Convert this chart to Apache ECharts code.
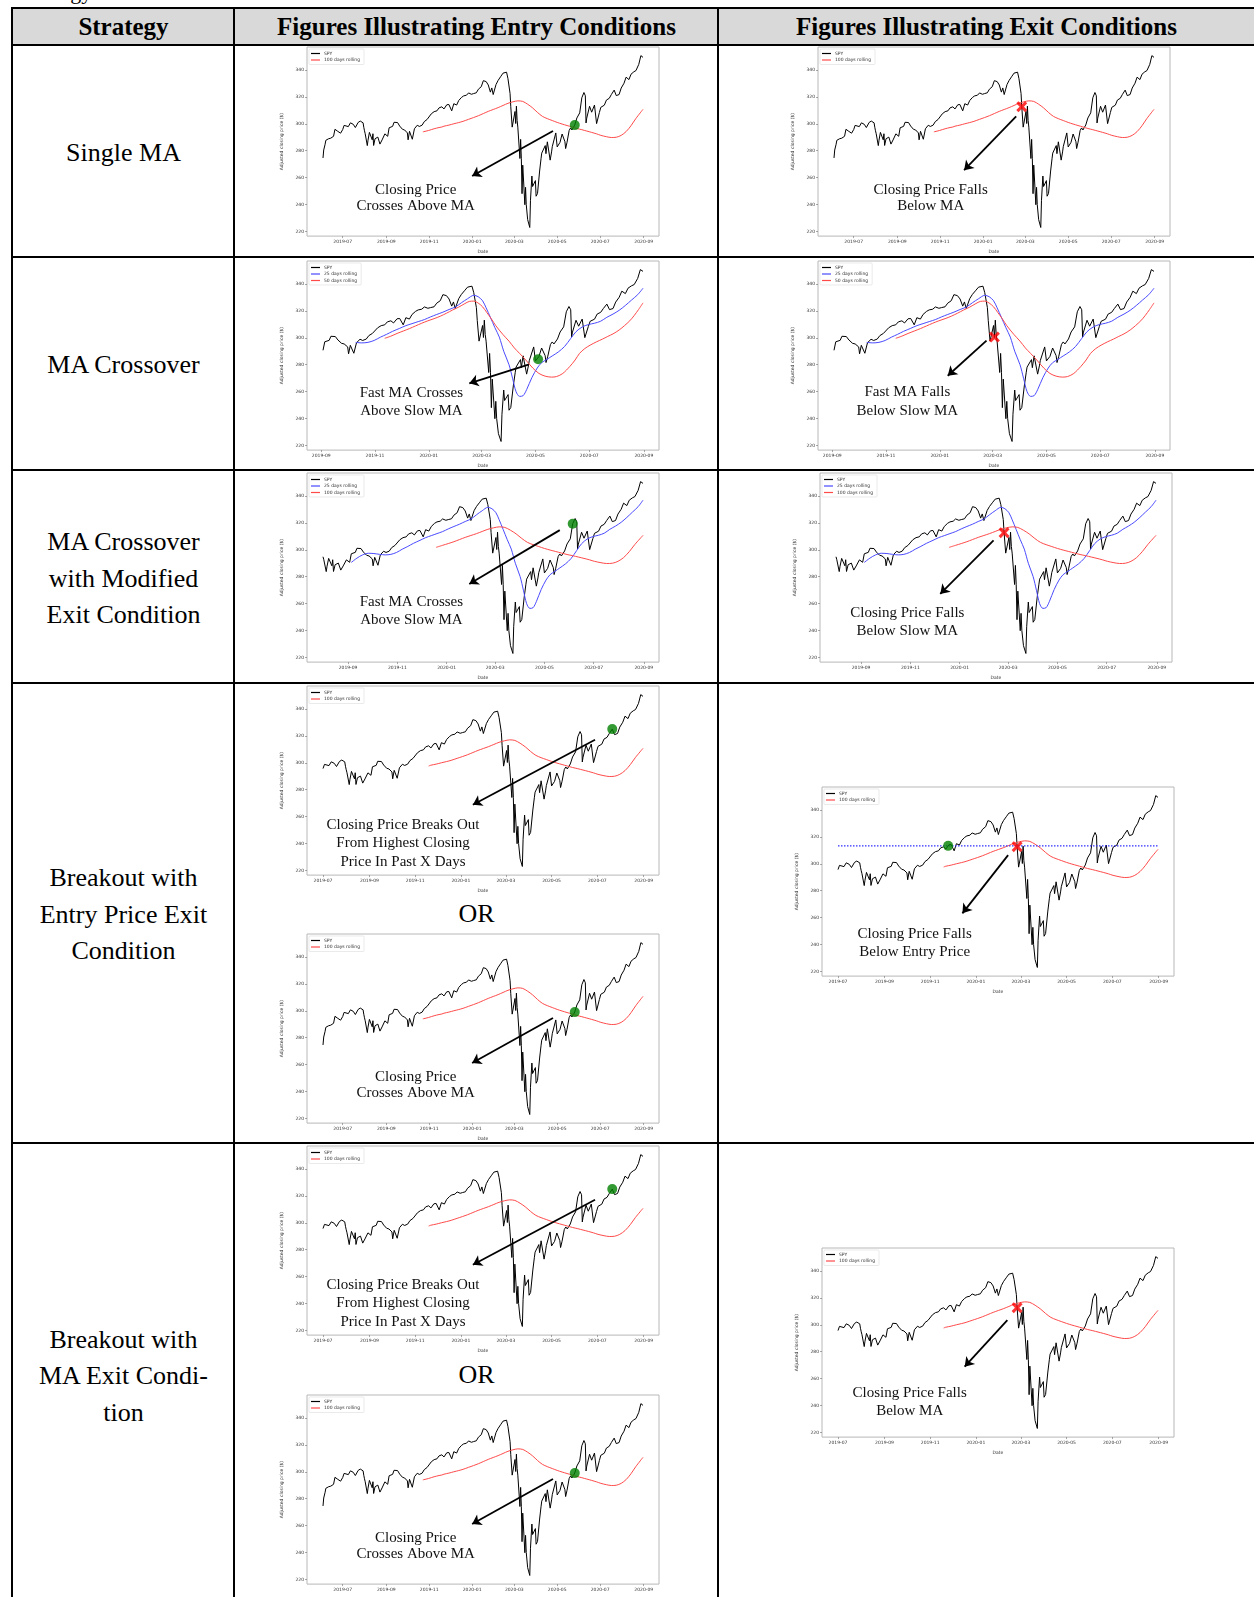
<!DOCTYPE html>
<html lang="en">
<head>
<meta charset="utf-8">
<title>Strategy entry and exit figures</title>
<script src="https://cdn.jsdelivr.net/npm/echarts@6/dist/echarts.min.js"></script>
<style>
    html, body {
        margin: 0;
        padding: 0;
        width: 1254px;
        height: 1597px;
        overflow: hidden;
        background: #fff;
        font-family: "Liberation Serif", "Times New Roman", serif;
        color: #000;
    }
    .hl { position: absolute; left: 11px; right: 0; height: 2px; background: #000; }
    .vl { position: absolute; top: 7px; bottom: 0; width: 2px; background: #000; }
    .head { position: absolute; top: 8px; height: 37px; line-height: 37px; font-weight: bold; font-size: 25px; text-align: center; }
    .label { position: absolute; left: 13px; width: 221px; text-align: center; font-size: 26px; line-height: 36.5px; }
    .or { position: absolute; left: 235px; width: 483px; text-align: center; font-size: 26px; line-height: 30px; }
    .fig { position: absolute; }
</style>
</head>
<body>
    <div style="position:absolute;left:19px;top:-19px;font-size:22px;line-height:22px;">Strategy</div>

    <div style="position:absolute;left:12px;top:8px;right:0;height:37px;background:#d9d9d9;"></div>
    <div class="hl" style="top:7px"></div>
    <div class="hl" style="top:44px"></div>
    <div class="hl" style="top:256px"></div>
    <div class="hl" style="top:469px"></div>
    <div class="hl" style="top:682px"></div>
    <div class="hl" style="top:1142px"></div>
    <div class="vl" style="left:11px"></div>
    <div class="vl" style="left:233px"></div>
    <div class="vl" style="left:717px"></div>

    <div class="head" style="left:13px;width:221px;">Strategy</div>
    <div class="head" style="left:235px;width:483px;">Figures Illustrating Entry Conditions</div>
    <div class="head" style="left:719px;width:535px;">Figures Illustrating Exit Conditions</div>

    <div class="label" style="top:134.5px">Single MA</div>
    <div class="label" style="top:346.5px">MA Crossover</div>
    <div class="label" style="top:524px">MA Crossover<br>with Modified<br>Exit Condition</div>
    <div class="label" style="top:860px">Breakout with<br>Entry Price Exit<br>Condition</div>
    <div class="label" style="top:1321.5px">Breakout with<br>MA Exit Condi-<br>tion</div>

    <div class="or" style="top:899px">OR</div>
    <div class="or" style="top:1360px">OR</div>

<script>
// SPY closing prices
const spy = [
    ['2019-06-03', 274.6], ['2019-06-04', 280.5], ['2019-06-06', 284.8], ['2019-06-07', 287.7],
    ['2019-06-11', 288.9], ['2019-06-14', 289.3], ['2019-06-18', 290.7], ['2019-06-20', 295.9],
    ['2019-06-24', 294.4], ['2019-06-28', 293.0], ['2019-07-01', 295.7], ['2019-07-03', 298.8],
    ['2019-07-09', 297.9], ['2019-07-12', 300.7], ['2019-07-16', 299.6], ['2019-07-19', 297.2],
    ['2019-07-23', 301.0], ['2019-07-26', 302.0], ['2019-07-30', 300.7], ['2019-07-31', 297.4],
    ['2019-08-01', 294.8], ['2019-08-02', 292.6], ['2019-08-05', 283.8], ['2019-08-06', 287.8],
    ['2019-08-08', 293.6], ['2019-08-12', 288.1], ['2019-08-13', 292.6], ['2019-08-14', 283.9],
    ['2019-08-16', 288.9], ['2019-08-20', 290.1], ['2019-08-23', 284.9], ['2019-08-26', 288.0],
    ['2019-08-28', 287.3], ['2019-08-30', 292.5], ['2019-09-03', 290.7], ['2019-09-05', 297.0],
    ['2019-09-10', 298.1], ['2019-09-12', 301.1], ['2019-09-17', 300.9], ['2019-09-19', 301.1],
    ['2019-09-20', 298.3], ['2019-09-24', 295.9], ['2019-09-27', 295.4], ['2019-10-01', 293.2],
    ['2019-10-02', 288.1], ['2019-10-04', 294.4], ['2019-10-08', 288.5], ['2019-10-11', 296.3],
    ['2019-10-15', 298.9], ['2019-10-18', 298.0], ['2019-10-22', 299.0], ['2019-10-25', 301.6],
    ['2019-10-29', 303.2], ['2019-10-31', 303.3], ['2019-11-04', 307.4], ['2019-11-08', 309.0],
    ['2019-11-12', 309.6], ['2019-11-15', 311.8], ['2019-11-19', 312.6], ['2019-11-22', 311.0],
    ['2019-11-26', 314.1], ['2019-11-29', 314.3], ['2019-12-03', 309.6], ['2019-12-06', 314.9],
    ['2019-12-10', 313.9], ['2019-12-13', 317.3], ['2019-12-17', 319.6], ['2019-12-20', 320.7],
    ['2019-12-24', 321.2], ['2019-12-27', 322.9], ['2019-12-31', 321.9], ['2020-01-03', 322.4],
    ['2020-01-07', 323.0], ['2020-01-10', 325.7], ['2020-01-14', 327.5], ['2020-01-17', 332.0],
    ['2020-01-21', 331.3], ['2020-01-24', 328.8], ['2020-01-27', 323.5], ['2020-01-29', 326.6],
    ['2020-01-31', 321.7], ['2020-02-04', 329.1], ['2020-02-07', 332.2], ['2020-02-11', 335.3],
    ['2020-02-14', 337.6], ['2020-02-19', 338.3], ['2020-02-21', 333.5], ['2020-02-24', 322.4],
    ['2020-02-25', 312.7], ['2020-02-27', 297.5], ['2020-02-28', 296.3], ['2020-03-02', 309.1],
    ['2020-03-03', 300.2], ['2020-03-04', 313.1], ['2020-03-05', 302.5], ['2020-03-06', 297.5],
    ['2020-03-09', 274.2], ['2020-03-10', 288.4], ['2020-03-11', 274.4], ['2020-03-12', 248.1],
    ['2020-03-13', 269.3], ['2020-03-16', 239.9], ['2020-03-17', 252.8], ['2020-03-18', 240.0],
    ['2020-03-19', 240.5], ['2020-03-20', 228.8], ['2020-03-23', 223.0], ['2020-03-24', 243.2],
    ['2020-03-26', 261.2], ['2020-03-27', 253.4], ['2020-03-31', 257.8], ['2020-04-01', 246.2],
    ['2020-04-03', 248.2], ['2020-04-06', 264.9], ['2020-04-08', 274.0], ['2020-04-09', 278.2],
    ['2020-04-14', 283.8], ['2020-04-15', 277.8], ['2020-04-17', 286.6], ['2020-04-21', 273.0],
    ['2020-04-23', 279.1], ['2020-04-24', 283.0], ['2020-04-29', 293.2], ['2020-05-01', 282.8],
    ['2020-05-05', 286.2], ['2020-05-08', 292.4], ['2020-05-12', 286.7], ['2020-05-13', 281.6],
    ['2020-05-15', 286.3], ['2020-05-18', 295.0], ['2020-05-20', 296.9], ['2020-05-22', 295.4],
    ['2020-05-26', 299.1], ['2020-05-29', 304.3], ['2020-06-02', 308.1], ['2020-06-05', 319.3],
    ['2020-06-08', 323.2], ['2020-06-10', 320.8], ['2020-06-11', 300.6], ['2020-06-12', 304.2],
    ['2020-06-16', 313.0], ['2020-06-19', 308.6], ['2020-06-23', 313.9], ['2020-06-26', 300.1],
    ['2020-06-30', 308.4], ['2020-07-02', 312.2], ['2020-07-07', 313.8], ['2020-07-10', 317.6],
    ['2020-07-14', 318.9], ['2020-07-17', 321.7], ['2020-07-21', 325.0], ['2020-07-24', 320.9],
    ['2020-07-28', 321.7], ['2020-07-31', 326.5], ['2020-08-04', 330.1], ['2020-08-07', 334.6],
    ['2020-08-11', 332.8], ['2020-08-14', 336.8], ['2020-08-18', 338.6], ['2020-08-21', 339.5],
    ['2020-08-25', 344.1], ['2020-08-28', 350.6], ['2020-08-31', 349.3]
];

// 100 days rolling mean (red)
const ma100 = [
    ['2019-10-23', 294.0], ['2019-10-31', 295.0], ['2019-11-08', 296.3], ['2019-11-15', 297.2],
    ['2019-11-19', 297.6], ['2019-11-22', 298.2], ['2019-11-29', 299.0], ['2019-12-06', 300.0],
    ['2019-12-13', 300.9], ['2019-12-19', 301.8], ['2019-12-27', 303.3], ['2020-01-03', 304.6],
    ['2020-01-10', 306.0], ['2020-01-17', 307.6], ['2020-01-24', 309.2], ['2020-01-31', 310.6],
    ['2020-02-07', 312.0], ['2020-02-14', 313.6], ['2020-02-21', 315.2], ['2020-02-28', 316.3],
    ['2020-03-06', 317.0], ['2020-03-13', 316.6], ['2020-03-20', 314.5], ['2020-03-27', 311.8],
    ['2020-04-03', 308.4], ['2020-04-10', 305.5], ['2020-04-17', 303.8], ['2020-04-24', 302.4],
    ['2020-05-01', 301.0], ['2020-05-08', 299.8], ['2020-05-15', 298.7], ['2020-05-22', 297.6],
    ['2020-05-29', 296.5], ['2020-06-05', 295.6], ['2020-06-12', 294.6], ['2020-06-19', 293.6],
    ['2020-06-26', 292.5], ['2020-07-02', 291.4], ['2020-07-10', 290.4], ['2020-07-17', 289.8],
    ['2020-07-24', 290.0], ['2020-07-31', 291.4], ['2020-08-07', 294.2], ['2020-08-14', 298.6],
    ['2020-08-21', 304.0], ['2020-08-31', 310.7]
];

// 25 days rolling mean (blue)
const ma25 = [
    ['2019-09-05', 290.6], ['2019-09-12', 293.8], ['2019-09-19', 296.2], ['2019-09-26', 297.4],
    ['2019-10-03', 297.2], ['2019-10-10', 296.6], ['2019-10-17', 296.2], ['2019-10-24', 296.6],
    ['2019-10-31', 298.0], ['2019-11-07', 300.4], ['2019-11-14', 302.5], ['2019-11-21', 304.8],
    ['2019-11-29', 307.0], ['2019-12-06', 309.0], ['2019-12-13', 310.5], ['2019-12-20', 312.0],
    ['2019-12-27', 313.5], ['2020-01-03', 315.5], ['2020-01-10', 317.3], ['2020-01-17', 319.0],
    ['2020-01-24', 321.0], ['2020-01-31', 322.8], ['2020-02-07', 326.0], ['2020-02-14', 329.0],
    ['2020-02-21', 331.5], ['2020-02-26', 330.5], ['2020-03-02', 327.5], ['2020-03-06', 322.3],
    ['2020-03-11', 315.0], ['2020-03-16', 307.5], ['2020-03-21', 300.5], ['2020-03-26', 290.0],
    ['2020-04-01', 280.0], ['2020-04-05', 270.0], ['2020-04-09', 260.0], ['2020-04-13', 256.5],
    ['2020-04-17', 257.0], ['2020-04-21', 261.5], ['2020-04-27', 270.5], ['2020-05-03', 277.5],
    ['2020-05-08', 281.5], ['2020-05-14', 284.0], ['2020-05-20', 286.5], ['2020-05-27', 289.5],
    ['2020-06-03', 293.5], ['2020-06-10', 299.5], ['2020-06-16', 304.5], ['2020-06-23', 308.0],
    ['2020-06-30', 309.8], ['2020-07-07', 310.8], ['2020-07-14', 312.3], ['2020-07-21', 315.2],
    ['2020-07-28', 317.6], ['2020-08-04', 320.4], ['2020-08-11', 324.0], ['2020-08-18', 328.0],
    ['2020-08-25', 332.0], ['2020-08-31', 336.8]
];

// 50 days rolling mean (red, MA crossover row)
const ma50 = [
    ['2019-11-12', 299.6], ['2019-11-19', 301.2], ['2019-11-26', 303.2], ['2019-12-03', 305.0],
    ['2019-12-10', 306.8], ['2019-12-17', 308.8], ['2019-12-24', 310.8], ['2019-12-31', 312.6],
    ['2020-01-07', 314.2], ['2020-01-14', 316.0], ['2020-01-21', 318.2], ['2020-01-28', 320.6],
    ['2020-02-04', 322.8], ['2020-02-11', 325.4], ['2020-02-16', 327.0], ['2020-02-21', 327.2],
    ['2020-02-26', 325.8], ['2020-03-02', 323.0], ['2020-03-07', 318.6], ['2020-03-12', 314.0],
    ['2020-03-17', 309.0], ['2020-03-25', 302.5], ['2020-04-01', 297.5], ['2020-04-07', 292.5],
    ['2020-04-13', 288.4], ['2020-04-20', 283.5], ['2020-04-28', 277.5], ['2020-05-05', 273.5],
    ['2020-05-12', 271.5], ['2020-05-19', 270.8], ['2020-05-25', 271.2], ['2020-06-01', 273.5],
    ['2020-06-09', 278.7], ['2020-06-15', 283.5], ['2020-06-20', 288.4], ['2020-06-26', 292.0],
    ['2020-07-02', 294.5], ['2020-07-09', 296.9], ['2020-07-16', 299.0], ['2020-07-22', 301.0],
    ['2020-07-28', 302.9], ['2020-08-04', 305.8], ['2020-08-10', 309.0], ['2020-08-16', 312.6],
    ['2020-08-21', 316.5], ['2020-08-26', 321.0], ['2020-08-31', 325.9]
];

const yTicks = [220, 240, 260, 280, 300, 320, 340];
const monthTicks = ['2019-07-01', '2019-09-01', '2019-11-01', '2020-01-01',
                    '2020-03-01', '2020-05-01', '2020-07-01', '2020-09-01'];
const yRange = [216.6, 357.0];

const RED = '#ff4a4a', BLUE = '#4a4aff';

const kinds = {
    single:   { start: '2019-06-03', lines: [
                  { name: '100 days rolling', data: ma100, from: '2019-10-23', color: RED } ] },
    breakout: { start: '2019-07-01', lines: [
                  { name: '100 days rolling', data: ma100, from: '2019-11-19', color: RED } ] },
    modified: { start: '2019-08-01', lines: [
                  { name: '25 days rolling', data: ma25, from: '2019-09-05', color: BLUE },
                  { name: '100 days rolling', data: ma100, from: '2019-12-19', color: RED } ] },
    cross:    { start: '2019-09-03', lines: [
                  { name: '25 days rolling', data: ma25, from: '2019-10-08', color: BLUE },
                  { name: '50 days rolling', data: ma50, from: '2019-11-12', color: RED } ] }
};

// one entry per small figure: plot frame (page px), signal marker, arrow and caption
const figures = [
    { kind: 'single', x: 307.3, y: 47.3, mark: ['dot', '2020-05-26', 299.0],
      arrow: [['2020-04-25', 294.6], ['2020-01-01', 261.2]],
      text: ['Closing Price', 'Crosses Above MA'], tx: 416, ty: 190, lh: 16.7 },
    { kind: 'single', x: 818.3, y: 47.3, mark: ['x', '2020-02-25', 312.7],
      arrow: [['2020-02-17', 305.5], ['2019-12-05', 265.5]],
      text: ['Closing Price Falls', 'Below MA'], tx: 931, ty: 190, lh: 16.7 },
    { kind: 'cross', x: 307.3, y: 260.6, mark: ['dot', '2020-05-04', 284.0],
      arrow: [['2020-04-23', 280.0], ['2020-02-16', 266.2]],
      text: ['Fast MA Crosses', 'Above Slow MA'], tx: 411.7, ty: 392.7, lh: 18 },
    { kind: 'cross', x: 818.3, y: 260.6, mark: ['x', '2020-03-03', 300.5],
      arrow: [['2020-02-23', 297.9], ['2020-01-10', 271.8]],
      text: ['Fast MA Falls', 'Below Slow MA'], tx: 907.6, ty: 392, lh: 18.5 },
    { kind: 'modified', x: 307.3, y: 473.3, mark: ['dot', '2020-06-05', 319.3],
      arrow: [['2020-05-20', 314.6], ['2020-01-29', 274.6]],
      text: ['Fast MA Crosses', 'Above Slow MA'], tx: 411.7, ty: 602.7, lh: 18 },
    { kind: 'modified', x: 820, y: 473.3, mark: ['x', '2020-02-25', 312.7],
      arrow: [['2020-02-12', 307.0], ['2019-12-08', 267.2]],
      text: ['Closing Price Falls', 'Below Slow MA'], tx: 907.3, ty: 613.3, lh: 18.4 },
    { kind: 'breakout', x: 307.3, y: 685.8, mark: ['dot', '2020-07-21', 325.0],
      arrow: [['2020-06-28', 317.1], ['2020-01-17', 268.8]],
      text: ['Closing Price Breaks Out', 'From Highest Closing', 'Price In Past X Days'], tx: 403.3, ty: 825, lh: 18.3 },
    { kind: 'breakout', x: 822.3, y: 787.4, mark: ['x', '2020-02-25', 312.7], entry: ['2019-11-25', 313.3],
      arrow: [['2020-02-13', 306.4], ['2019-12-14', 263.2]],
      text: ['Closing Price Falls', 'Below Entry Price'], tx: 915, ty: 934.3, lh: 18.4 },
    { kind: 'single', x: 307.3, y: 934.3, mark: ['dot', '2020-05-26', 299.0],
      arrow: [['2020-04-25', 294.6], ['2020-01-01', 261.2]],
      text: ['Closing Price', 'Crosses Above MA'], tx: 416, ty: 1077, lh: 16.7 },
    { kind: 'breakout', x: 307.3, y: 1146.3, mark: ['dot', '2020-07-21', 325.0],
      arrow: [['2020-06-28', 317.1], ['2020-01-17', 268.8]],
      text: ['Closing Price Breaks Out', 'From Highest Closing', 'Price In Past X Days'], tx: 403.3, ty: 1285.5, lh: 18.3 },
    { kind: 'single', x: 307.3, y: 1394.8, mark: ['dot', '2020-05-26', 299.0],
      arrow: [['2020-04-25', 294.6], ['2020-01-01', 261.2]],
      text: ['Closing Price', 'Crosses Above MA'], tx: 416, ty: 1537.5, lh: 16.7 },
    { kind: 'breakout', x: 822.3, y: 1247.9, mark: ['x', '2020-02-25', 312.7],
      arrow: [['2020-02-12', 303.5], ['2019-12-17', 268.9]],
      text: ['Closing Price Falls', 'Below MA'], tx: 910, ty: 1392.6, lh: 18.3 }
];

const FIG_W = 352, FIG_H = 194;
const LAST = '2020-08-31';
const X_PATH = 'path://M0,4L4,0L10,6L16,0L20,4L14,10L20,16L16,20L10,14L4,20L0,16L6,10Z';

const toTime = s => new Date(s + 'T00:00:00').getTime();
const pick = (list, from) => list.filter(p => p[0] >= from).map(p => [toTime(p[0]), p[1]]);
const pad2 = n => (n < 10 ? '0' : '') + n;

function drawFigure(fig) {
    const kind = kinds[fig.kind];
    const padL = 40, padT = 4;
    const left = fig.x - padL, top = fig.y - padT;

    const el = document.createElement('div');
    el.className = 'fig';
    el.style.left = left + 'px';
    el.style.top = top + 'px';
    el.style.width = (FIG_W + padL + 8) + 'px';
    el.style.height = (FIG_H + padT + 18) + 'px';
    document.body.appendChild(el);

    const t0 = toTime(kind.start), t1 = toTime(LAST);
    const margin = (t1 - t0) * 0.05;

    const series = [{
        name: 'SPY', type: 'line', data: pick(spy, kind.start),
        showSymbol: false, color: '#000',
        lineStyle: { width: 1, color: '#000' },
        z: 2,
        markLine: {
            silent: true, animation: false,
            symbol: ['none', 'arrow'], symbolSize: 9,
            lineStyle: { color: '#000', width: 1.8, type: 'solid' },
            label: { show: false },
            emphasis: { disabled: true },
            data: [[
                { coord: [toTime(fig.arrow[0][0]), fig.arrow[0][1]] },
                { coord: [toTime(fig.arrow[1][0]), fig.arrow[1][1]] }
            ]]
        }
    }];

    kind.lines.forEach(l => {
        series.push({
            name: l.name, type: 'line', data: pick(l.data, l.from),
            showSymbol: false, smooth: 0.3, color: l.color,
            lineStyle: { width: 1, color: l.color }, z: 3
        });
    });

    if (fig.entry) {
        series.push({
            name: 'entry level', type: 'line', showSymbol: false,
            data: [[t0, fig.entry[1]], [t1, fig.entry[1]]],
            lineStyle: { color: '#3030ff', width: 1.2, type: [1.5, 1.5] }, z: 4
        });
        series.push({
            name: 'entry', type: 'scatter', symbol: 'circle', symbolSize: 10,
            itemStyle: { color: '#008000' }, z: 6,
            data: [[toTime(fig.entry[0]), fig.entry[1]]]
        });
    }

    const isX = fig.mark[0] === 'x';
    series.push({
        name: 'signal', type: 'scatter',
        symbol: isX ? X_PATH : 'circle', symbolSize: isX ? 11 : 10,
        itemStyle: { color: isX ? '#ff0000' : '#008000' }, z: 6,
        data: [[toTime(fig.mark[1]), fig.mark[2]]]
    });

    const graphic = fig.text.map((line, i) => ({
        type: 'text', silent: true,
        x: fig.tx - left, y: fig.ty - top + i * fig.lh,
        style: {
            text: line, align: 'center', verticalAlign: 'middle',
            fontFamily: '"Liberation Serif", "Times New Roman", serif',
            fontSize: 15, fill: '#111'
        },
        z: 10
    }));

    const small = { fontSize: 4.5, color: '#333', fontFamily: 'DejaVu Sans' };

    const chart = echarts.init(el, null, { renderer: 'canvas' });
    chart.setOption({
        animation: false,
        grid: {
            left: padL, top: padT, width: FIG_W, height: FIG_H,
            show: true, borderColor: '#b8b8b8', borderWidth: 1, backgroundColor: '#fff'
        },
        legend: {
            data: ['SPY'].concat(kind.lines.map(l => l.name)),
            orient: 'vertical', left: padL + 2, top: padT + 2,
            icon: 'rect', itemWidth: 9, itemHeight: 1.2, itemGap: 1.5,
            padding: [2, 4, 2, 2],
            textStyle: Object.assign({ padding: [0, 0, 0, -1] }, small),
            backgroundColor: '#fff', borderColor: '#dcdcdc', borderWidth: 0.6, borderRadius: 1,
            selectedMode: false
        },
        xAxis: {
            type: 'value', min: t0 - margin, max: t1 + margin, scale: true,
            name: 'Date', nameLocation: 'middle', nameGap: 10, nameTextStyle: small,
            axisLine: { show: false },
            splitLine: { show: false },
            axisTick: { show: true, length: 2, lineStyle: { color: '#555', width: 0.5 },
                        customValues: monthTicks.map(toTime) },
            axisLabel: Object.assign({
                margin: 3,
                customValues: monthTicks.map(toTime),
                formatter: v => { const d = new Date(v); return d.getFullYear() + '-' + pad2(d.getMonth() + 1); }
            }, small)
        },
        yAxis: {
            type: 'value', min: yRange[0], max: yRange[1], scale: true,
            name: 'Adjusted closing price ($)', nameLocation: 'middle', nameGap: 14,
            nameTextStyle: small,
            axisLine: { show: false },
            splitLine: { show: false },
            axisTick: { show: true, length: 2, lineStyle: { color: '#555', width: 0.5 }, customValues: yTicks },
            axisLabel: Object.assign({ margin: 3, customValues: yTicks }, small)
        },
        series: series,
        graphic: graphic
    });
}

figures.forEach(drawFigure);
</script>
</body>
</html>
